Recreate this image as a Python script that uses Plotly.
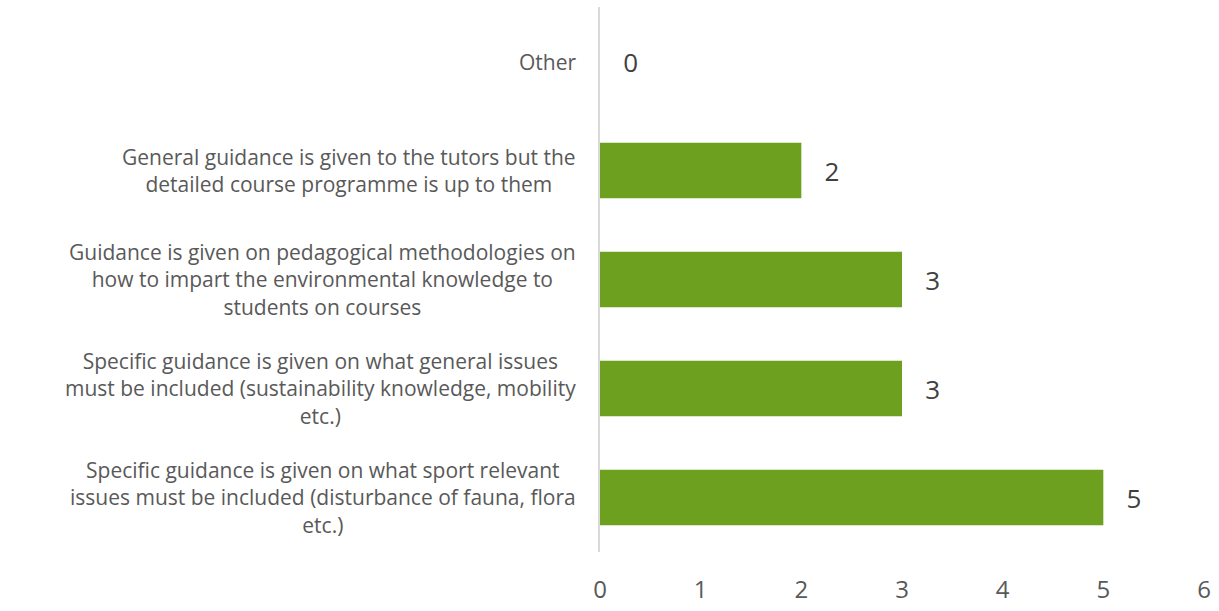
import plotly.graph_objects as go

categories = [
    "Other",
    "General guidance is given to the tutors but the<br>detailed course programme is up to them",
    "Guidance is given on pedagogical methodologies on<br>how to impart the environmental knowledge to<br>students on courses",
    "Specific guidance is given on what general issues<br>must be included (sustainability knowledge, mobility<br>etc.)",
    "Specific guidance is given on what sport relevant<br>issues must be included (disturbance of fauna, flora<br>etc.)",
]
values = [0, 2, 3, 3, 5]
x_ticks = [0, 1, 2, 3, 4, 5, 6]

FONT = "Open Sans"

fig = go.Figure()
fig.add_trace(go.Bar(
    x=values,
    y=categories,
    orientation="h",
    width=0.51,
    marker=dict(color="#6ea020", line=dict(width=0)),
    text=values,
    texttemplate="&nbsp;&nbsp;&nbsp;%{x}",
    textposition="outside",
    cliponaxis=False,
    textfont=dict(family=FONT, size=26, color="#404040"),
    hoverinfo="x+y",
))

for c in categories:
    fig.add_annotation(
        x=0, xref="paper", y=c, yref="y",
        text=c, showarrow=False,
        xanchor="right", align="center", xshift=-22,
        font=dict(family=FONT, size=21, color="#595959"),
    )

fig.update_layout(
    width=1219, height=611,
    margin=dict(l=600, r=15, t=7, b=59, autoexpand=False),
    paper_bgcolor="white", plot_bgcolor="white",
    showlegend=False,
    bargap=0.49,
    xaxis=dict(
        range=[0, 6], tickvals=x_ticks, showgrid=False, zeroline=False,
        showline=False, ticks="", automargin=False,
        tickfont=dict(family=FONT, size=24, color="#595959"),
        ticklabelstandoff=21,
    ),
    yaxis=dict(
        autorange="reversed", showticklabels=False, showgrid=False,
        zeroline=False, showline=True, linecolor="#d9d9d9", linewidth=2,
        ticks="", automargin=False,
    ),
)

fig.write_html("out.html")
